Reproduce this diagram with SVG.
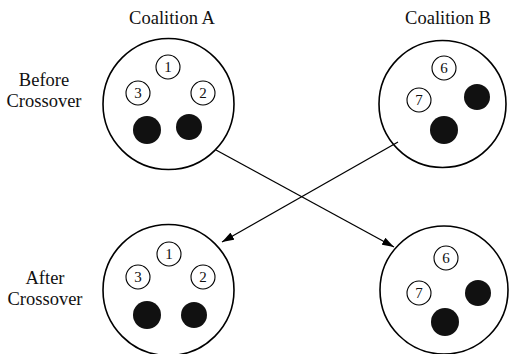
<svg xmlns="http://www.w3.org/2000/svg" width="509" height="354" viewBox="0 0 509 354">
<defs>
<marker id="ah" viewBox="0 0 12 8" refX="12" refY="4" markerWidth="12" markerHeight="8" markerUnits="userSpaceOnUse" orient="auto">
<path d="M0,0 L12,4 L0,8 z" fill="#000"/>
</marker>
</defs>
<style>
.big{fill:#fff;stroke:#000;stroke-width:1.6}
.small{fill:#fff;stroke:#000;stroke-width:1.1}
.blk{fill:#111}
text{font-family:"Liberation Serif","Times New Roman",Times,serif;fill:#111;text-anchor:middle}
.lbl{font-size:18.5px}
.num{font-size:15px}
.edge{stroke:#000;stroke-width:1.3;fill:none}
</style>
<rect width="509" height="354" fill="#fff"/>
<text class="lbl" x="172" y="24">Coalition A</text>
<text class="lbl" x="448" y="24">Coalition B</text>
<text class="lbl" x="44" y="86">Before</text>
<text class="lbl" x="44" y="107">Crossover</text>
<text class="lbl" x="45" y="284">After</text>
<text class="lbl" x="45" y="305">Crossover</text>
<g id="coalitionA-before">
<circle class="big" cx="168.5" cy="104" r="65.5"/>
<circle class="small" cx="168" cy="67" r="12"/><text class="num" x="168" y="72">1</text>
<circle class="small" cx="138" cy="93" r="12"/><text class="num" x="138" y="98">3</text>
<circle class="small" cx="203" cy="93" r="12"/><text class="num" x="203" y="98">2</text>
<circle class="blk" cx="147" cy="130" r="14"/>
<circle class="blk" cx="189" cy="127" r="13"/>
</g>
<g id="coalitionB-before">
<circle class="big" cx="442.5" cy="104" r="63.5"/>
<circle class="small" cx="444" cy="68" r="12"/><text class="num" x="444" y="73">6</text>
<circle class="small" cx="419" cy="100" r="12"/><text class="num" x="419" y="105">7</text>
<circle class="blk" cx="477" cy="97" r="13"/>
<circle class="blk" cx="444" cy="130" r="14"/>
</g>
<g id="coalitionA-after">
<circle class="big" cx="168.5" cy="290" r="65.5"/>
<circle class="small" cx="169" cy="254" r="12"/><text class="num" x="169" y="259">1</text>
<circle class="small" cx="138" cy="277" r="12"/><text class="num" x="138" y="282">3</text>
<circle class="small" cx="203" cy="277" r="12"/><text class="num" x="203" y="282">2</text>
<circle class="blk" cx="147" cy="315" r="14"/>
<circle class="blk" cx="194" cy="315" r="13"/>
</g>
<g id="coalitionB-after">
<circle class="big" cx="444" cy="290" r="64"/>
<circle class="small" cx="446" cy="258" r="12"/><text class="num" x="446" y="263">6</text>
<circle class="small" cx="419" cy="293" r="12"/><text class="num" x="419" y="298">7</text>
<circle class="blk" cx="478" cy="293" r="13"/>
<circle class="blk" cx="445" cy="322" r="14"/>
</g>
<g id="connectors">
<line class="edge" x1="216" y1="150" x2="394" y2="247" marker-end="url(#ah)"/>
<line class="edge" x1="398" y1="142" x2="222" y2="242" marker-end="url(#ah)"/>
</g>
</svg>
